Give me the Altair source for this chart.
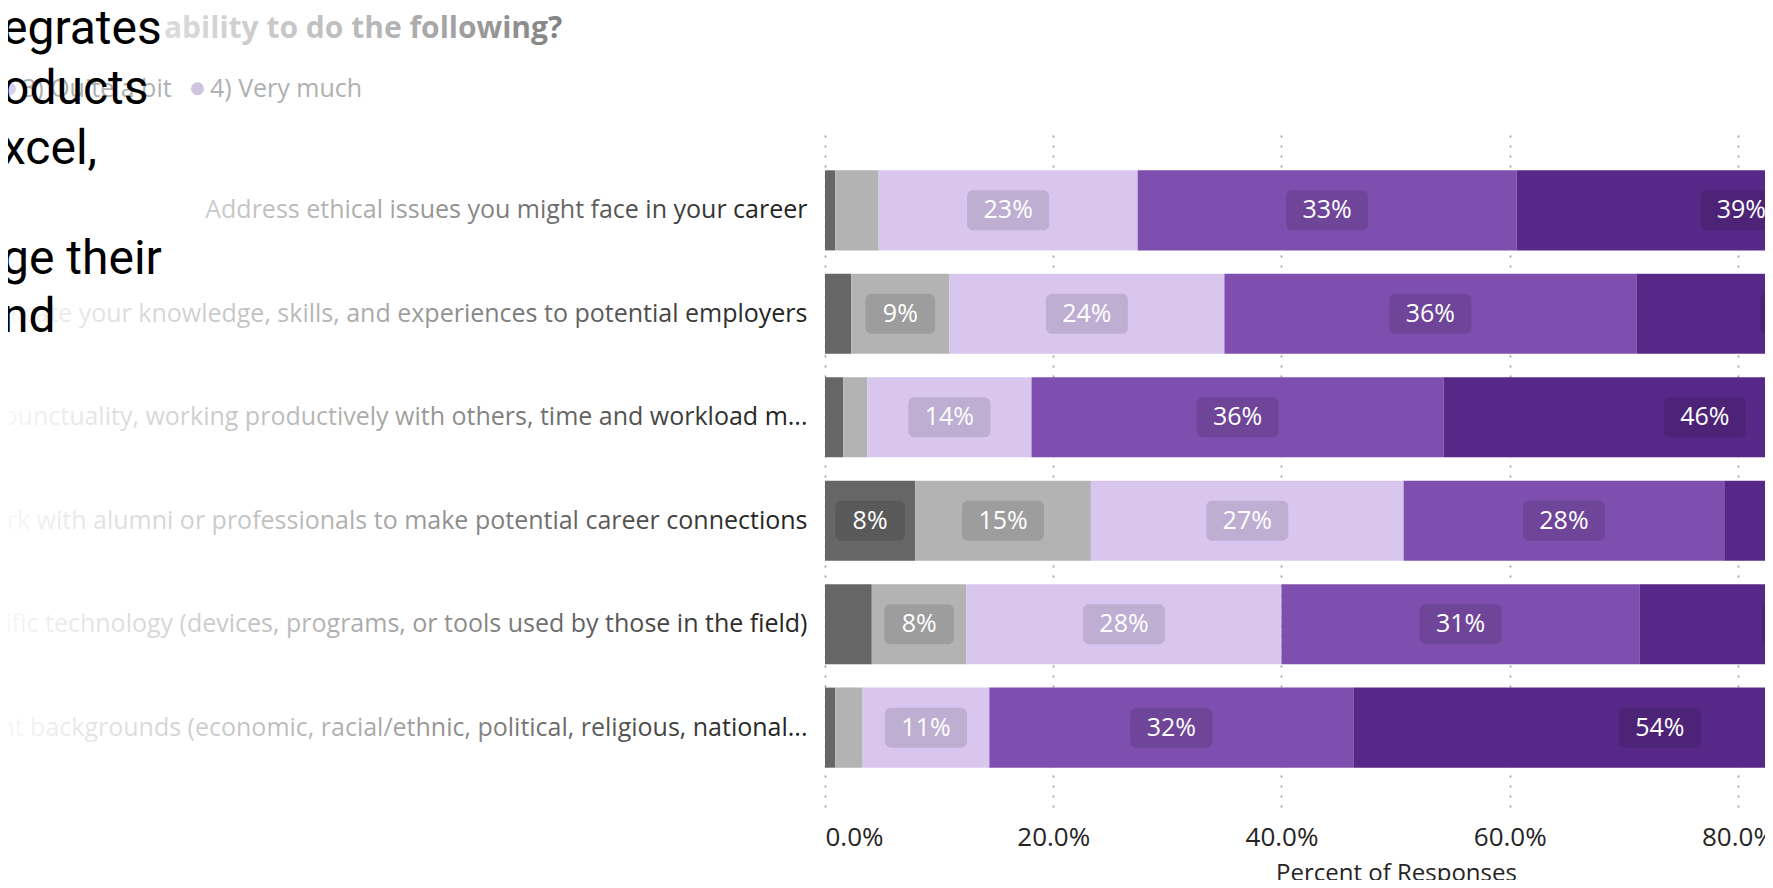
import altair as alt
import pandas as pd

# ---------------- data ----------------
questions = [
    "Address ethical issues you might face in your career",
    "Communicate your knowledge, skills, and experiences to potential employers",
    "Demonstrate professional habits (punctuality, working productively with others, time and workload m...",
    "Network with alumni or professionals to make potential career connections",
    "Use discipline-specific technology (devices, programs, or tools used by those in the field)",
    "Work with people from different backgrounds (economic, racial/ethnic, political, religious, national...",
]
responses = ["0) Not at all", "1) Very little", "2) Some", "3) Quite a bit", "4) Very much"]
colors = ["#666666", "#b3b3b3", "#d8c6ef", "#7e4fae", "#572887"]

not_at_all = [0.9, 2.3, 1.6, 7.9, 4.1, 0.9]
very_little = [3.8, 8.6, 2.1, 15.4, 8.3, 2.4]
some = [22.7, 24.1, 14.4, 27.4, 27.6, 11.1]
quite_a_bit = [33.2, 36.1, 36.1, 28.1, 31.4, 31.9]
very_much = [39.4, 28.9, 45.8, 21.2, 28.6, 53.7]

x_ticks = [0.0, 0.2, 0.4, 0.6, 0.8]
legend_shown = ["3) Quite a bit", "4) Very much"]
question_title = "ability to do the following?"
overlay_block_1 = ["egrates", "oducts", "xcel,"]
overlay_block_2 = ["ge their", "nd"]

# ---------------- table ----------------
series = [not_at_all, very_little, some, quite_a_bit, very_much]
rows = []
for qi, q in enumerate(questions):
    cum = 0.0
    for ri, r in enumerate(responses):
        v = series[ri][qi] / 100.0
        start, end = cum, cum + v
        cum = end
        pct = int(round(v * 100))
        rows.append(dict(
            question=q, response=r, value=v, start=start, end=end,
            mid=(start + end) / 2, label=f"{pct}%", show=pct >= 6,
            digits="1" if pct < 10 else "2",
        ))
df = pd.DataFrame(rows)

FONT = "Open Sans"
XMAX = 0.8237

# rounded-rect symbols (normalized to [-1, 1])
def rrect(w, h, r):
    return (f"M{-w + r},{-h} L{w - r},{-h} A{r},{r} 0 0 1 {w},{-h + r} "
            f"L{w},{h - r} A{r},{r} 0 0 1 {w - r},{h} L{-w + r},{h} "
            f"A{r},{r} 0 0 1 {-w},{h - r} L{-w},{-h + r} A{r},{r} 0 0 1 {-w + r},{-h} Z")

box1 = rrect(0.85, 0.488, 0.15)
box2 = rrect(1.0, 0.488, 0.15)

xscale = alt.Scale(domain=[0, XMAX], nice=False, zero=True)
yscale = alt.Scale(domain=questions, paddingInner=0.226, paddingOuter=0.38)
xtitle = "Percent of Responses"

base = alt.Chart(df)

bars = base.mark_bar(clip=True).encode(
    x=alt.X("start:Q", scale=xscale, title=xtitle,
            axis=alt.Axis(values=x_ticks, format=".1%", grid=True, gridDash=[2, 8],
                          gridColor="#9a9a9a", gridWidth=1.6, domain=False, ticks=False,
                          labelFontSize=26, labelColor="#252423", labelFont=FONT,
                          labelPadding=17, titleFontSize=24, titleFont=FONT,
                          titleFontWeight="normal", titleColor="#252423",
                          titleX=571, titleY=66, titleAlign="center",
                          titleBaseline="middle", titleAnchor="start")),
    x2="end:Q",
    y=alt.Y("question:N", scale=yscale, sort=questions, title=None,
            axis=alt.Axis(domain=False, ticks=False, grid=False, labelFontSize=25,
                          labelColor="#252423", labelFont=FONT, labelLimit=3000,
                          labelPadding=18)),
    color=alt.Color("response:N", sort=responses,
                    scale=alt.Scale(domain=responses, range=colors),
                    legend=alt.Legend(orient="none", legendX=-828, legendY=-55,
                                      direction="horizontal", values=legend_shown,
                                      title=None, symbolType="circle", symbolSize=170,
                                      symbolOpacity=0.28, symbolStrokeWidth=0,
                                      labelFontSize=25, labelColor="#b0b0b0",
                                      labelFont=FONT, columnPadding=13, labelOffset=0)),
)

boxes = base.transform_filter("datum.show").mark_point(
    filled=True, clip=True, size=6724, fill="#000000", fillOpacity=0.12,
    strokeWidth=0, opacity=1,
).encode(
    x=alt.X("mid:Q", scale=xscale, title=xtitle),
    y=alt.Y("question:N", scale=yscale, sort=questions, title=None),
    shape=alt.Shape("digits:N", scale=alt.Scale(domain=["1", "2"], range=[box1, box2]),
                    legend=None),
)

labels = base.transform_filter("datum.show").mark_text(
    clip=True, color="white", fontSize=25, font=FONT, baseline="middle", align="center",
).encode(
    x=alt.X("mid:Q", scale=xscale, title=xtitle),
    y=alt.Y("question:N", scale=yscale, sort=questions, title=None),
    text="label:N",
)

one = pd.DataFrame({"k": [0]})

qtitle = alt.Chart(one).mark_text(
    align="left", baseline="alphabetic", fontSize=30, fontWeight="bold", font=FONT,
    color="#4a4a4a",
).encode(text=alt.value(question_title), x=alt.value(-661), y=alt.value(-93))

fade = alt.Chart(one).mark_rect(
    color=alt.Gradient(
        gradient="linear", x1=0, x2=1, y1=0, y2=0,
        stops=[alt.GradientStop(offset=0, color="rgba(255,255,255,0.97)"),
               alt.GradientStop(offset=0.5, color="rgba(255,255,255,0.6)"),
               alt.GradientStop(offset=1, color="rgba(255,255,255,0)")],
    )
).encode(x=alt.value(-825), x2=alt.value(-65), y=alt.value(-131), y2=alt.value(757))

chart = alt.layer(bars, boxes, labels, qtitle, fade).properties(
    width=940,
    height=676,
    autosize=alt.AutoSizeParams(type="none"),
    padding={"left": 817, "top": 123, "right": 0, "bottom": 73},
    title=alt.TitleParams(overlay_block_1, subtitle=overlay_block_2,
                          anchor="start", frame="group", dx=-823, dy=342,
                          offset=0, fontSize=48, font="Roboto",
                          fontWeight="normal", color="#000000", lineHeight=60,
                          subtitleFontSize=48, subtitleFont="Roboto",
                          subtitleFontWeight="normal", subtitleColor="#000000",
                          subtitleLineHeight=58, subtitlePadding=62),
).configure(background="white", view=alt.ViewConfig(stroke=None))

chart.save("out.html", embed_options={"renderer": "svg", "actions": False})
